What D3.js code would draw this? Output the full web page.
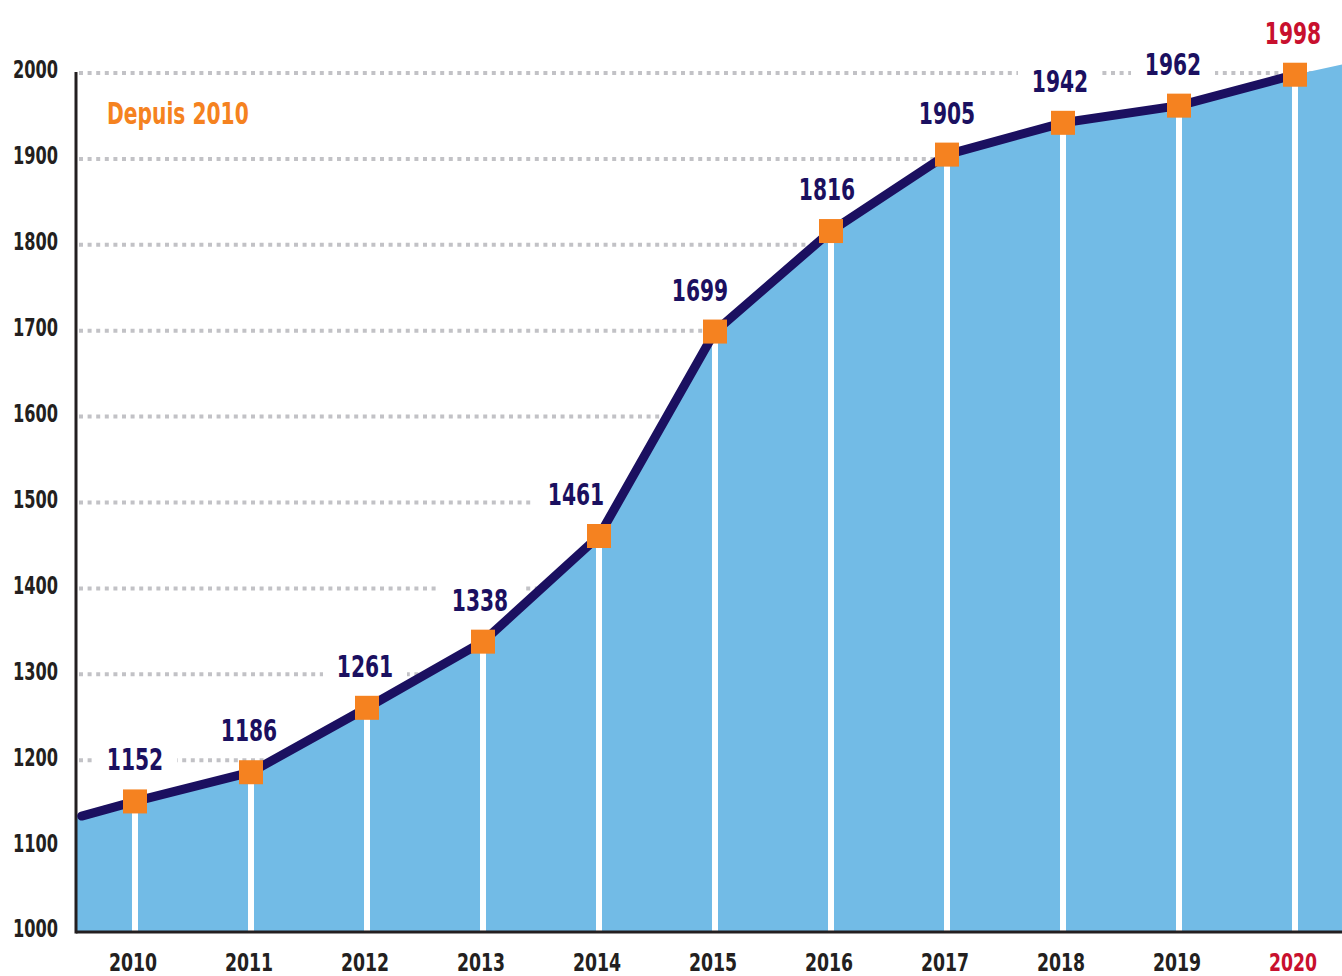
<!DOCTYPE html>
<html>
<head>
<meta charset="utf-8">
<title>Depuis 2010</title>
<style>
  body { margin: 0; background: #ffffff; }
  svg text { font-family: "Liberation Sans Narrow", "DejaVu Sans Condensed", "Liberation Sans", sans-serif; font-weight: bold; }
</style>
</head>
<body>
<svg id="chart" width="1342" height="976"></svg>
<script src="https://d3js.org/d3.v7.min.js"></script>
<script>
// data
const years = [2010, 2011, 2012, 2013, 2014, 2015, 2016, 2017, 2018, 2019, 2020];
const values = [1152, 1186, 1261, 1338, 1461, 1699, 1816, 1905, 1942, 1962, 1998];
const yTicks = [1000, 1100, 1200, 1300, 1400, 1500, 1600, 1700, 1800, 1900, 2000];
// the filled area runs a little past the first and last year
const areaLead = { year: 2009.49, value: 1133 };
const areaTail = { year: 2020.405, value: 2010 };
const lineLead = { year: 2009.54, value: 1135 };
const highlightYear = 2020;
const title = "Depuis 2010";

const navy = "#1b1060";
const orange = "#f58220";
const red = "#c8102e";
const blue = "#72bbe6";

// the font on hand is wider than the condensed face of the original,
// so texts get squeezed sideways
const squeeze = 0.75;

// labels on the steep part sit left of their point to clear the line
const labelNudge = { 2011: -2, 2012: -2, 2013: -3, 2014: -23, 2015: -15, 2016: -4, 2018: -3, 2019: -6, 2020: -2 };

const svg = d3.select("#chart");

// year -> x, value -> y
const x = d3.scaleLinear().domain([2010, 2020]).range([135, 1295]);
const y = d3.scaleLinear().domain([1000, 2000]).range([932, 73]);

const points = years.map((yr, i) => ({ year: yr, value: values[i] }));
const labelX = d => x(d.year) + (labelNudge[d.year] || 0);

// dotted gridlines
svg.append("g")
  .selectAll("line")
  .data(yTicks.filter(d => d > 1000))
  .join("line")
  .attr("x1", 79)
  .attr("x2", 1342)
  .attr("y1", d => y(d))
  .attr("y2", d => y(d))
  .attr("stroke", "#c2c2c6")
  .attr("stroke-width", 4)
  .attr("stroke-dasharray", "4 4.6");

// white patches behind value labels cut the gridlines
svg.append("g")
  .selectAll("rect")
  .data(points)
  .join("rect")
  .attr("x", d => labelX(d) - 42)
  .attr("y", d => y(d.value) - 62)
  .attr("width", 84)
  .attr("height", 38)
  .attr("fill", "#ffffff");

// blue area
const area = d3.area()
  .x(d => x(d.year))
  .y0(y(1000))
  .y1(d => y(d.value));

svg.append("path")
  .datum([areaLead, ...points, areaTail])
  .attr("d", area)
  .attr("fill", blue);

// white drop lines under each point
svg.append("g")
  .selectAll("line")
  .data(points)
  .join("line")
  .attr("x1", d => x(d.year))
  .attr("x2", d => x(d.year))
  .attr("y1", d => y(d.value))
  .attr("y2", y(1000))
  .attr("stroke", "#ffffff")
  .attr("stroke-width", 6);

// axes
svg.append("line")
  .attr("x1", 76).attr("x2", 76)
  .attr("y1", y(2000) - 1).attr("y2", y(1000) + 1.5)
  .attr("stroke", "#231f20")
  .attr("stroke-width", 3);

svg.append("line")
  .attr("x1", 76).attr("x2", 1342)
  .attr("y1", y(1000)).attr("y2", y(1000))
  .attr("stroke", "#231f20")
  .attr("stroke-width", 3);

// dark line
const line = d3.line()
  .x(d => x(d.year))
  .y(d => y(d.value));

svg.append("path")
  .datum([lineLead, ...points])
  .attr("d", line)
  .attr("fill", "none")
  .attr("stroke", navy)
  .attr("stroke-width", 9)
  .attr("stroke-linecap", "round")
  .attr("stroke-linejoin", "round");

// orange square markers
svg.append("g")
  .selectAll("rect")
  .data(points)
  .join("rect")
  .attr("x", d => x(d.year) - 12)
  .attr("y", d => y(d.value) - 12)
  .attr("width", 24)
  .attr("height", 24)
  .attr("fill", orange);

// value labels
svg.append("g")
  .selectAll("text")
  .data(points)
  .join("text")
  .attr("transform", d => `translate(${labelX(d)},${y(d.value) - 31}) scale(${squeeze},1)`)
  .attr("text-anchor", "middle")
  .attr("font-size", 30)
  .attr("fill", d => d.year === highlightYear ? red : navy)
  .text(d => d.value);

// y tick labels
svg.append("g")
  .selectAll("text")
  .data(yTicks)
  .join("text")
  .attr("transform", d => `translate(58,${y(d) - 3}) scale(${squeeze},1)`)
  .attr("dy", "0.35em")
  .attr("text-anchor", "end")
  .attr("font-size", 24)
  .attr("fill", "#231f20")
  .text(d => d);

// x tick labels
svg.append("g")
  .selectAll("text")
  .data(years)
  .join("text")
  .attr("transform", d => `translate(${x(d) - 2},971) scale(0.8,1)`)
  .attr("text-anchor", "middle")
  .attr("font-size", 24)
  .attr("fill", d => d === highlightYear ? red : "#231f20")
  .text(d => d);

// title
svg.append("text")
  .attr("transform", `translate(107,124) scale(${squeeze},1)`)
  .attr("font-size", 30)
  .attr("fill", orange)
  .text(title);
</script>
</body>
</html>
